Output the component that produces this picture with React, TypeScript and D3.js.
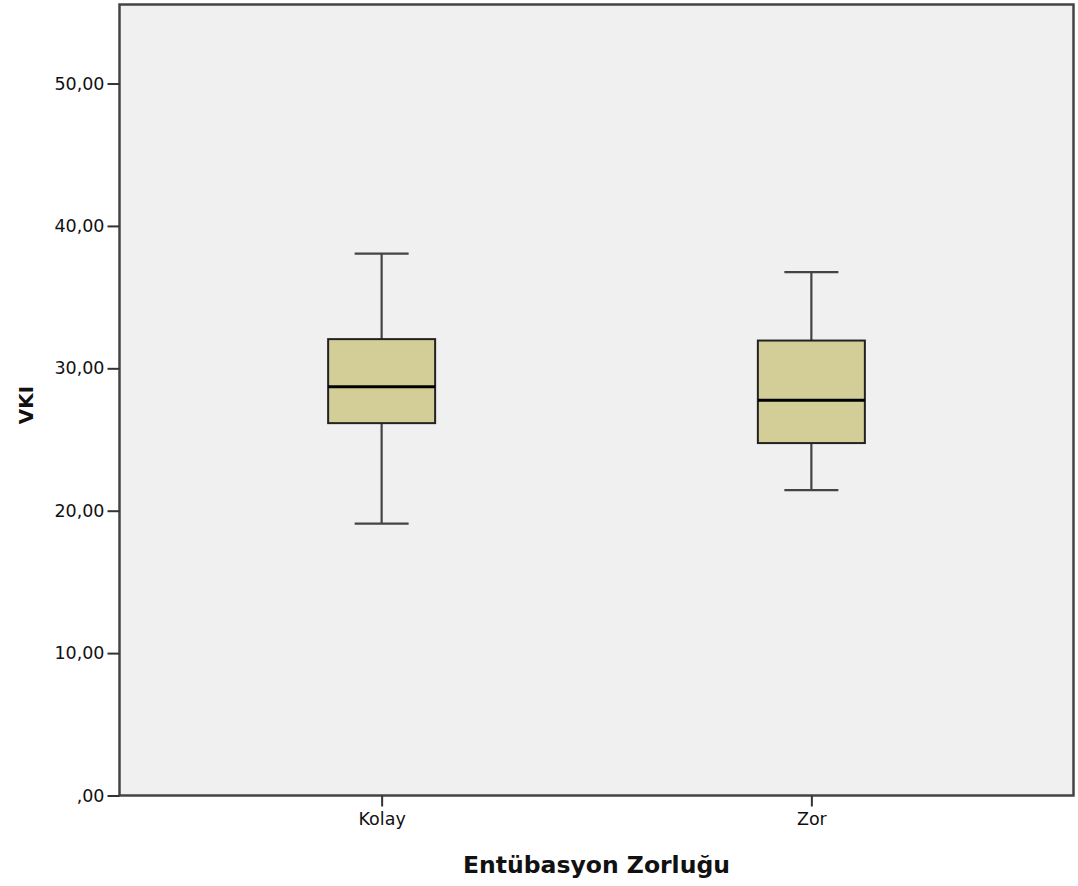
import React, { useEffect, useRef } from "react";
import * as d3 from "d3";

// box plot summaries
const groups = ["Kolay", "Zor"];
const whiskerLow = [19.1, 21.45];
const q1 = [26.15, 24.75];
const median = [28.7, 27.75];
const q3 = [32.05, 31.95];
const whiskerHigh = [38.05, 36.75];
const yTicks = [0, 10, 20, 30, 40, 50];

const fmt = (v: number) => (v === 0 ? ",00" : v.toFixed(2).replace(".", ","));

const App = () => {
  const ref = useRef<SVGSVGElement>(null);

  useEffect(() => {
    const svg = d3.select(ref.current);
    svg.selectAll("*").remove();

    const left = 119.5;
    const right = 1073.5;
    const top = 4.5;
    const bottom = 795.5;

    const y = d3.scaleLinear().domain([0, 55.55]).range([bottom, top]);
    const x = d3.scalePoint().domain(groups).range([left, right]).padding(0.61);

    svg
      .append("rect")
      .attr("x", left)
      .attr("y", top)
      .attr("width", right - left)
      .attr("height", bottom - top)
      .attr("fill", "#f0f0f0")
      .attr("stroke", "#444")
      .attr("stroke-width", 2.5);

    const yAxis = svg
      .append("g")
      .attr("transform", `translate(${left},0)`)
      .call(
        d3
          .axisLeft(y)
          .tickValues(yTicks)
          .tickSize(12)
          .tickPadding(3)
          .tickFormat((d) => fmt(+d))
      );
    yAxis.select(".domain").remove();
    yAxis.selectAll("line").attr("stroke", "#333").attr("stroke-width", 2);
    yAxis
      .selectAll("text")
      .attr("fill", "#111")
      .style("font-family", "DejaVu Sans, sans-serif")
      .style("font-size", "17.5px");

    const xAxis = svg
      .append("g")
      .attr("transform", `translate(0,${bottom})`)
      .call(d3.axisBottom(x).tickSize(11).tickPadding(6));
    xAxis.select(".domain").remove();
    xAxis.selectAll("line").attr("stroke", "#333").attr("stroke-width", 2);
    xAxis
      .selectAll("text")
      .attr("fill", "#111")
      .style("font-family", "DejaVu Sans, sans-serif")
      .style("font-size", "17.5px");

    const boxW = 107;
    const capW = 54;

    groups.forEach((g, i) => {
      const cx = x(g) as number;
      const gg = svg.append("g");

      gg.append("line")
        .attr("x1", cx)
        .attr("x2", cx)
        .attr("y1", y(whiskerHigh[i]))
        .attr("y2", y(whiskerLow[i]))
        .attr("stroke", "#444")
        .attr("stroke-width", 2.2);

      [whiskerLow[i], whiskerHigh[i]].forEach((v) => {
        gg.append("line")
          .attr("x1", cx - capW / 2)
          .attr("x2", cx + capW / 2)
          .attr("y1", y(v))
          .attr("y2", y(v))
          .attr("stroke", "#444")
          .attr("stroke-width", 2.2);
      });

      gg.append("rect")
        .attr("x", cx - boxW / 2)
        .attr("y", y(q3[i]))
        .attr("width", boxW)
        .attr("height", y(q1[i]) - y(q3[i]))
        .attr("fill", "#d3ce98")
        .attr("stroke", "#222")
        .attr("stroke-width", 2);

      gg.append("line")
        .attr("x1", cx - boxW / 2)
        .attr("x2", cx + boxW / 2)
        .attr("y1", y(median[i]))
        .attr("y2", y(median[i]))
        .attr("stroke", "#000")
        .attr("stroke-width", 3);
    });

    svg
      .append("text")
      .attr("x", (left + right) / 2)
      .attr("y", 873)
      .attr("text-anchor", "middle")
      .style("font-family", "DejaVu Sans, sans-serif")
      .style("font-weight", "bold")
      .style("font-size", "23.5px")
      .attr("fill", "#111")
      .text("Entübasyon Zorluğu");

    svg
      .append("text")
      .attr("transform", "translate(33,405) rotate(-90)")
      .attr("text-anchor", "middle")
      .style("font-family", "DejaVu Sans, sans-serif")
      .style("font-weight", "bold")
      .style("font-size", "20px")
      .attr("fill", "#111")
      .text("VKI");
  }, []);

  return (
    <div style={{ position: "absolute", left: 0, top: 0 }}>
      <svg ref={ref} width={1078} height={886} style={{ display: "block" }} />
    </div>
  );
};

export default App;
